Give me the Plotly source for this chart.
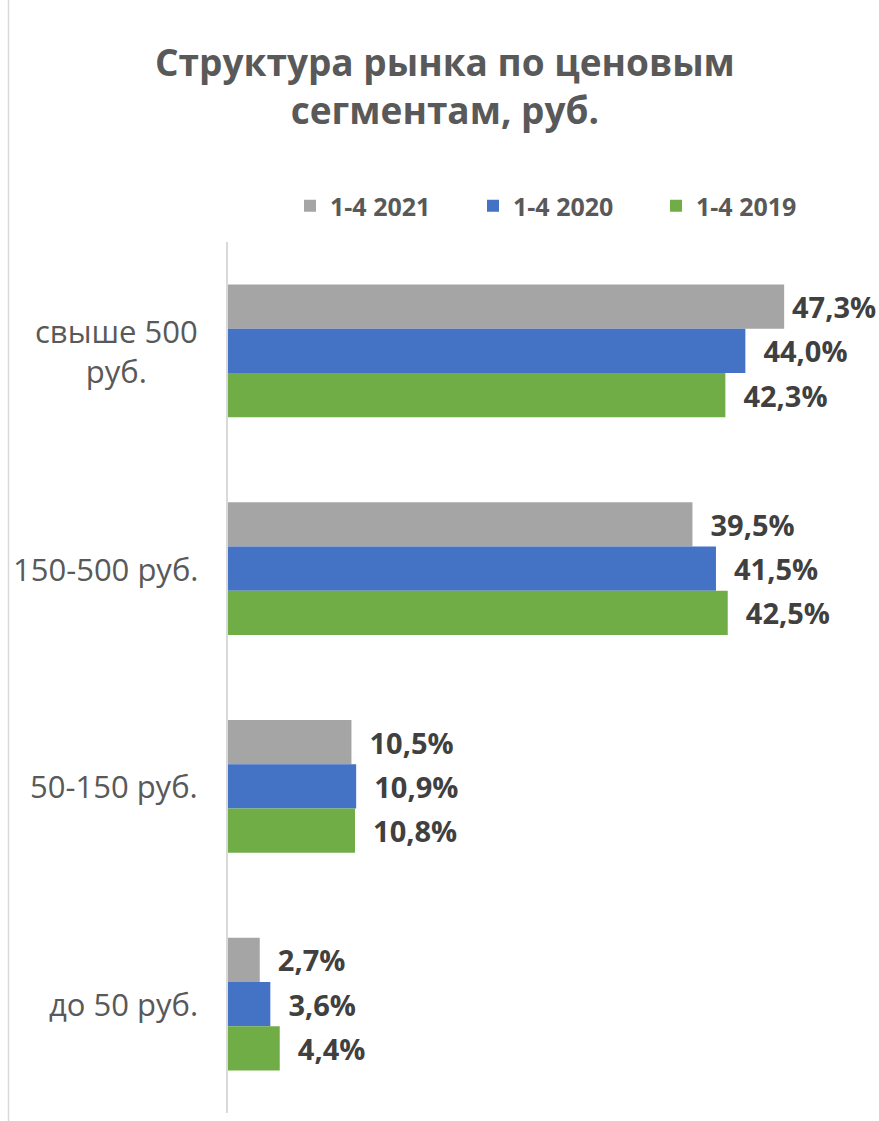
import plotly.graph_objects as go

categories = ["свыше 500 руб.", "150-500 руб.", "50-150 руб.", "до 50 руб."]
cat_labels = ["свыше 500<br>руб.", "150-500 руб.", "50-150 руб.", "до 50 руб."]
series_names = ["1-4 2021", "1-4 2020", "1-4 2019"]
values_2021 = [47.3, 39.5, 10.5, 2.7]
values_2020 = [44.0, 41.5, 10.9, 3.6]
values_2019 = [42.3, 42.5, 10.8, 4.4]
colors = ["#A5A5A5", "#4472C4", "#70AD47"]

FONT = "Open Sans"
W, H = 879, 1121
ML, MR, MT, MB = 228, 9, 242, 8
PW, PH = W - ML - MR, H - MT - MB
XMAX = 54.6


def px_x(x):
    return (x - ML) / PW


def px_y(y):
    return 1 + (MT - y) / PH


fig = go.Figure()
for name, vals, col in zip(series_names, [values_2021, values_2020, values_2019], colors):
    # labels sit a little away from the bar end unless they would run off the chart
    templates = [("\u00a0\u00a0" if v < 46 else "\u2009") + "%{x:.1f}%" for v in vals]
    fig.add_trace(go.Bar(
        y=categories, x=vals, name=name, orientation="h",
        marker=dict(color=col, line=dict(width=0)),
        texttemplate=templates, textposition="outside", cliponaxis=False,
        textfont=dict(family=FONT, size=29, color="#404040", weight="bold"),
    ))

for cat, lab in zip(categories, cat_labels):
    fig.add_annotation(x=px_x(200), xref="paper", y=cat, yref="y", text=lab,
                       showarrow=False, xanchor="right", align="center",
                       font=dict(family=FONT, size=31, color="#595959"))

fig.add_annotation(x=px_x(445), xref="paper", y=px_y(85), yref="paper",
                   text="<b>Структура рынка по ценовым<br>сегментам, руб.</b>",
                   showarrow=False, xanchor="center", yanchor="middle", align="center",
                   font=dict(family=FONT, size=37, color="#595959"))

fig.add_shape(type="line", xref="paper", yref="paper", x0=px_x(8.5), x1=px_x(8.5),
              y0=px_y(H), y1=px_y(0), line=dict(color="#D9D9D9", width=1.5))

fig.update_layout(
    width=W, height=H,
    margin=dict(l=ML, r=MR, t=MT, b=MB, autoexpand=False),
    paper_bgcolor="white", plot_bgcolor="white",
    separators=", ",
    barmode="group", bargap=0.39, bargroupgap=0,
    showlegend=True,
    legend=dict(orientation="h", x=px_x(290), xanchor="left", y=px_y(206), yanchor="middle",
                font=dict(family=FONT, size=25, color="#595959", weight="bold"),
                traceorder="normal", entrywidth=138),
    xaxis=dict(range=[0, XMAX], visible=False, fixedrange=True),
    yaxis=dict(autorange="reversed", showticklabels=False, showline=True,
               linecolor="#D9D9D9", linewidth=1.5, showgrid=False, ticks="", fixedrange=True),
    font=dict(family=FONT),
)

fig.write_html("out.html", config={"displayModeBar": False},
               post_script="document.body.style.margin='0';document.body.style.overflow='hidden';")
